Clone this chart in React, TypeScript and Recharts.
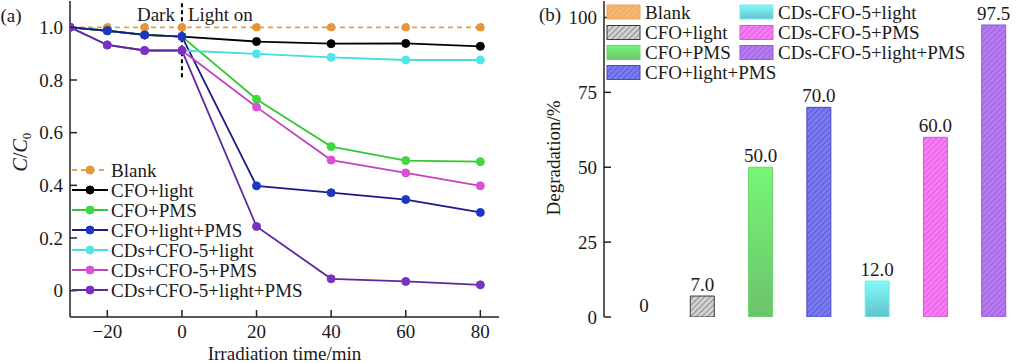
import React from 'react';
import {
  LineChart, Line, XAxis, YAxis, ReferenceLine, ReferenceDot, Legend,
  BarChart, Bar, Cell, LabelList,
} from 'recharts';

const FONT = "'Liberation Serif','Times New Roman',serif";
const INK = '#1a1a1a';

// ---------- (a) kinetics data ----------
const times = [-30, -20, -10, 0, 20, 40, 60, 80];
const blank = [1, 1, 1, 1, 1, 1, 1, 1];
const cfoLight = [1, 0.987, 0.971, 0.965, 0.946, 0.938, 0.939, 0.928];
const cfoPms = [1, 0.987, 0.971, 0.965, 0.727, 0.547, 0.494, 0.49];
const cfoLightPms = [1, 0.987, 0.971, 0.965, 0.398, 0.372, 0.346, 0.297];
const cdsLight = [1, 0.933, 0.912, 0.912, 0.899, 0.886, 0.876, 0.876];
const cdsPms = [1, 0.933, 0.912, 0.912, 0.697, 0.496, 0.447, 0.398];
const cdsLightPms = [1, 0.933, 0.912, 0.912, 0.244, 0.045, 0.035, 0.022];
const lineNames = [
  'Blank', 'CFO+light', 'CFO+PMS', 'CFO+light+PMS',
  'CDs+CFO-5+light', 'CDs+CFO-5+PMS', 'CDs+CFO-5+light+PMS',
];
const xTicks = [-20, 0, 20, 40, 60, 80];
const yTicks = [0, 0.2, 0.4, 0.6, 0.8, 1.0];

// ---------- (b) degradation data ----------
const barNames = [
  'Blank', 'CFO+light', 'CFO+PMS', 'CFO+light+PMS',
  'CDs-CFO-5+light', 'CDs-CFO-5+PMS', 'CDs-CFO-5+light+PMS',
];
const barValues = [0, 7, 50, 70, 12, 60, 97.5];
const barTicks = [0, 25, 50, 75, 100];

// ---------- styles ----------
const lineStyles = [
  { line: '#e3a052', dot: '#e6953a', dash: '5 4' },
  { line: '#000000', dot: '#000000' },
  { line: '#34c934', dot: '#3fd83f' },
  { line: '#1b1b8e', dot: '#1f35c8' },
  { line: '#44dcdc', dot: '#4fe6e6' },
  { line: '#c443c4', dot: '#d94fd9' },
  { line: '#5b2a9c', dot: '#7a30c2' },
];
const barStyles = [
  { fill: 'url(#hOrange)', stroke: '#e8a860' },
  { fill: 'url(#hGray)', stroke: '#3a3a3a' },
  { fill: 'url(#gGreen)', stroke: '#6ad86a' },
  { fill: 'url(#hBlue)', stroke: '#4a4ac0' },
  { fill: 'url(#gCyan)', stroke: '#76e8ec' },
  { fill: 'url(#hMag)', stroke: '#d060d0' },
  { fill: 'url(#hPur)', stroke: '#8c5ccc' },
];

const seriesValues = [blank, cfoLight, cfoPms, cfoLightPms, cdsLight, cdsPms, cdsLightPms];
const lineData = times.map((t, i) => {
  const row: Record<string, number> = { t };
  seriesValues.forEach((arr, k) => { row['s' + k] = arr[i]; });
  return row;
});
const barData = barNames.map((name, i) => ({ name, value: barValues[i] }));

const FS = 19;
const axisStyle = { stroke: '#222', strokeWidth: 1.5 };
const txt = { fontFamily: FONT, fontSize: FS, fill: INK };

// left chart geometry (chart coords)
const L_AXIS_X = 70;
const L_BOTTOM = 317;
const R_AXIS_X = 84;

const fmtX = (v: number) => (v < 0 ? '\u2212' + Math.abs(v) : String(v));
const fmtY = (v: number) => (v === 0 ? '0' : v.toFixed(1));

const LeftTick = (p: any) => (
  <g>
    <line x1={L_AXIS_X} x2={L_AXIS_X + 7} y1={p.y} y2={p.y} stroke="#222" strokeWidth={1.5} />
    <text x={L_AXIS_X - 7} y={p.y} dy="0.35em" textAnchor="end" {...txt}>{fmtY(p.payload.value)}</text>
  </g>
);
const BottomTick = (p: any) => (
  <g>
    <line x1={p.x} x2={p.x} y1={L_BOTTOM} y2={L_BOTTOM - 7} stroke="#222" strokeWidth={1.5} />
    <text x={p.x} y={L_BOTTOM + 8} dy="0.71em" textAnchor="middle" {...txt}>{fmtX(p.payload.value)}</text>
  </g>
);
const RightTick = (p: any) => (
  <g>
    <line x1={R_AXIS_X} x2={R_AXIS_X + 7} y1={p.y} y2={p.y} stroke="#222" strokeWidth={1.5} />
    <text x={R_AXIS_X - 7} y={p.y} dy="0.35em" textAnchor="end" {...txt}>{p.payload.value}</text>
  </g>
);

const LeftLegend = () => (
  <svg width={270} height={142} style={{ display: 'block' }}>
    {lineNames.map((n, i) => {
      const y = 12 + i * 20;
      const s = lineStyles[i];
      return (
        <g key={n}>
          <line x1={2} x2={38} y1={y} y2={y} stroke={s.line} strokeWidth={1.8} strokeDasharray={s.dash} />
          <circle cx={20} cy={y} r={4} fill={s.dot} stroke={s.dot} />
          <text x={41} y={y} dy="0.35em" {...txt}>{n}</text>
        </g>
      );
    })}
  </svg>
);

const RightLegend = () => {
  const pos = [
    [2, 12], [2, 32.5], [2, 52.5], [2, 72.5],
    [135, 12], [135, 32.5], [135, 52.5],
  ];
  return (
    <svg width={420} height={85} style={{ display: 'block' }}>
      {barNames.map((n, i) => {
        const [x, y] = pos[i];
        const s = barStyles[i];
        return (
          <g key={n}>
            <rect x={x} y={y - 7} width={33} height={14} fill={s.fill} stroke={s.stroke} strokeWidth={1} />
            <text x={x + 38} y={y} dy="0.35em" {...txt}>{n}</text>
          </g>
        );
      })}
    </svg>
  );
};

const hatch = (id: string, base: string, ln: string) => (
  <pattern id={id} key={id} width={4} height={4} patternUnits="userSpaceOnUse" patternTransform="rotate(45)">
    <rect width={4} height={4} fill={base} />
    <line x1={0} y1={0} x2={0} y2={4} stroke={ln} strokeWidth={1.1} />
  </pattern>
);

export default function App() {
  return (
    <div style={{ position: 'absolute', left: 0, top: 0, width: 1034, height: 363, background: '#fff' }}>
      <div style={{ position: 'absolute', left: 0, top: 0 }}>
        <LineChart width={520} height={363} data={lineData} margin={{ top: 1, right: 21, bottom: 1, left: 0 }}>
          <XAxis
            dataKey="t" type="number" domain={[-30, 85]} ticks={xTicks} allowDataOverflow
            height={45} tickSize={0} tickLine={false} axisLine={axisStyle} tick={BottomTick}
            label={{
              content: (p: any) => {
                const vb = p.viewBox || { x: 70, width: 429 };
                return <text x={vb.x + vb.width / 2} y={353} dy="0.35em" textAnchor="middle" {...txt}>Irradiation time/min</text>;
              },
            }}
          />
          <XAxis xAxisId="top" orientation="top" type="number" domain={[-30, 85]} allowDataOverflow height={0} tick={false} tickLine={false} axisLine={axisStyle} />
          <YAxis
            type="number" domain={[-0.1, 1.1]} ticks={yTicks} allowDataOverflow width={70}
            tickSize={0} tickLine={false} axisLine={axisStyle} tick={LeftTick}
            label={{
              content: () => (
                <g>
                  <text x={11} y={15} dy="0.35em" textAnchor="middle" {...txt}>(a)</text>
                  <text transform="translate(20,152) rotate(-90)" textAnchor="middle" dy="0.35em" {...txt} fontSize={20}>
                    <tspan fontStyle="italic">C</tspan><tspan>/</tspan><tspan fontStyle="italic">C</tspan><tspan fontSize={13} dy={4}>0</tspan>
                  </text>
                </g>
              ),
            }}
          />
          <YAxis yAxisId="right" orientation="right" type="number" domain={[-0.1, 1.1]} allowDataOverflow width={0} tick={false} tickLine={false} axisLine={axisStyle} />
          <ReferenceLine segment={[{ x: 0, y: 0.81 }, { x: 0, y: 1.1 }]} stroke="#000" strokeWidth={2} strokeDasharray="4 3" ifOverflow="visible" />
          <ReferenceDot
            x={0} y={1.05} r={0} fill="none" stroke="none" ifOverflow="visible"
            label={{
              content: (p: any) => {
                const vb = p.viewBox || { x: 181, y: 13 };
                return (
                  <g>
                    <text x={vb.x - 7} y={vb.y} dy="0.35em" textAnchor="end" {...txt}>Dark</text>
                    <text x={vb.x + 6} y={vb.y} dy="0.35em" textAnchor="start" {...txt}>Light on</text>
                  </g>
                );
              },
            }}
          />
          <Legend
            layout="horizontal" verticalAlign="middle" align="center"
            wrapperStyle={{ left: 70, top: 158, width: 270, height: 142 }}
            content={() => <LeftLegend />}
          />
          {lineNames.map((n, k) => (
            <Line
              key={n} name={n} dataKey={'s' + k} type="linear" isAnimationActive={false}
              stroke={lineStyles[k].line} strokeWidth={1.8} strokeDasharray={lineStyles[k].dash}
              dot={{ r: 4, fill: lineStyles[k].dot, stroke: lineStyles[k].dot, strokeWidth: 1 }}
              activeDot={false}
            />
          ))}
        </LineChart>
      </div>
      <div style={{ position: 'absolute', left: 520, top: 0 }}>
        <BarChart width={514} height={363} data={barData} margin={{ top: 1, right: 1, bottom: 46, left: 0 }}>
          <defs>
            {hatch('hOrange', '#f4b872', '#e8a055')}
            {hatch('hGray', '#d2d2d2', '#555555')}
            {hatch('hBlue', '#7a7af2', '#4242b8')}
            {hatch('hMag', '#f57cf5', '#c84ec8')}
            {hatch('hPur', '#b87af2', '#8552c6')}
            <linearGradient id="gGreen" x1="0" y1="0" x2="0" y2="1">
              <stop offset="0%" stopColor="#76f676" />
              <stop offset="100%" stopColor="#6cc26c" />
            </linearGradient>
            <linearGradient id="gCyan" x1="0" y1="0" x2="0" y2="1">
              <stop offset="0%" stopColor="#84fafa" />
              <stop offset="100%" stopColor="#5ec4cc" />
            </linearGradient>
          </defs>
          <XAxis dataKey="name" padding={{ left: 11, right: 10 }} height={0} tick={false} tickLine={false} axisLine={axisStyle} />
          <XAxis xAxisId="top" orientation="top" dataKey="name" height={0} tick={false} tickLine={false} axisLine={axisStyle} />
          <YAxis
            type="number" domain={[0, 105.5]} ticks={barTicks} allowDataOverflow width={84}
            tickSize={0} tickLine={false} axisLine={axisStyle} tick={RightTick}
            label={{
              content: () => (
                <g>
                  <text x={30} y={14} dy="0.35em" textAnchor="middle" {...txt}>(b)</text>
                  <text transform="translate(33,158) rotate(-90)" textAnchor="middle" dy="0.35em" {...txt}>Degradation/%</text>
                </g>
              ),
            }}
          />
          <YAxis yAxisId="right" orientation="right" type="number" domain={[0, 105.5]} allowDataOverflow width={0} tick={false} tickLine={false} axisLine={axisStyle} />
          <Legend
            layout="horizontal" verticalAlign="middle" align="center"
            wrapperStyle={{ left: 85, top: 0, width: 420, height: 85 }}
            content={() => <RightLegend />}
          />
          <Bar dataKey="value" barSize={24} minPointSize={0.5} isAnimationActive={false}>
            {barData.map((d, i) => (
              <Cell
                key={d.name}
                fill={d.value === 0 ? 'transparent' : barStyles[i].fill}
                stroke={d.value === 0 ? 'none' : barStyles[i].stroke}
                strokeWidth={1}
              />
            ))}
            <LabelList
              dataKey="value" position="top" offset={5}
              formatter={(v: any) => (Number(v) === 0 ? '0' : Number(v).toFixed(1))}
              style={{ fontFamily: FONT, fontSize: FS, fill: INK }}
            />
          </Bar>
        </BarChart>
      </div>
    </div>
  );
}
